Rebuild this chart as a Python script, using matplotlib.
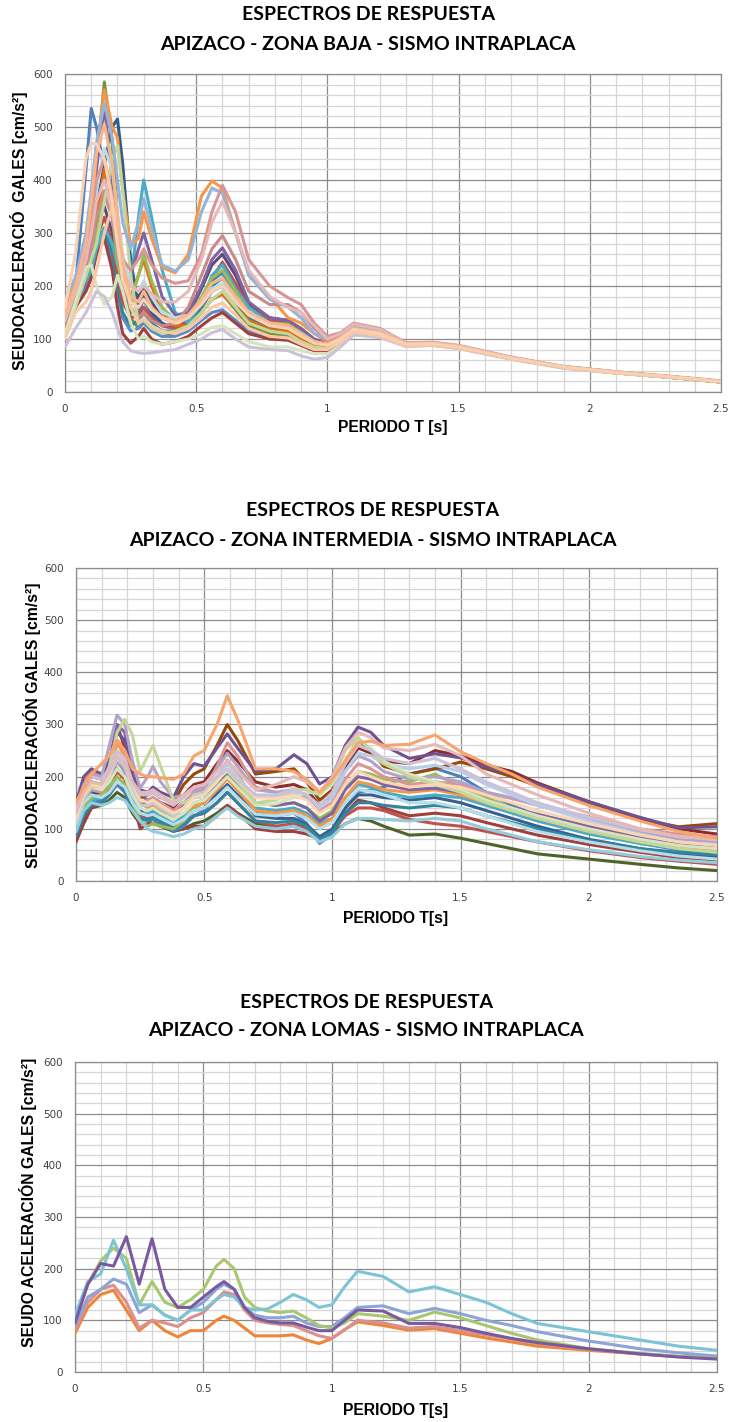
import matplotlib
matplotlib.use("Agg")
import matplotlib.pyplot as plt
from matplotlib.ticker import MultipleLocator, FuncFormatter

# ---- ZONA BAJA ----
periodo_baja = [0, 0.04, 0.08, 0.10, 0.12, 0.15, 0.18, 0.20, 0.22, 0.25, 0.28, 0.30, 0.33, 0.37,
                0.42, 0.47, 0.52, 0.56, 0.60, 0.65, 0.70, 0.78, 0.85, 0.90, 0.95, 1.00, 1.05,
                1.10, 1.20, 1.30, 1.40, 1.50, 1.70, 1.90, 2.10, 2.30, 2.50]
baja_series = [
    [130, 200, 420, 535, 500, 420, 330, 250, 190, 150, 150, 175, 145, 125, 120, 135, 170, 210, 225, 185, 150, 125, 120, 105, 90, 88, 100, 118, 110, 90, 92, 85, 64, 47, 37, 29, 20],
    [140, 190, 230, 280, 350, 430, 500, 515, 430, 250, 160, 185, 150, 130, 120, 130, 160, 190, 200, 170, 140, 120, 115, 100, 88, 85, 98, 115, 108, 88, 90, 84, 63, 46, 37, 28, 19],
    [120, 175, 230, 300, 430, 585, 470, 330, 200, 140, 120, 135, 115, 105, 110, 125, 150, 175, 185, 155, 125, 110, 105, 90, 80, 80, 95, 115, 108, 88, 90, 84, 63, 46, 37, 28, 19],
    [105, 160, 200, 230, 270, 300, 250, 190, 140, 115, 120, 130, 115, 105, 105, 115, 135, 150, 155, 135, 115, 100, 98, 88, 78, 78, 92, 112, 105, 87, 89, 83, 63, 46, 36, 28, 19],
    [115, 160, 190, 215, 260, 290, 230, 160, 110, 92, 105, 120, 100, 90, 95, 105, 125, 140, 150, 130, 110, 100, 98, 88, 78, 78, 92, 112, 105, 87, 89, 83, 63, 46, 36, 28, 19],
    [125, 180, 215, 240, 280, 310, 260, 200, 150, 125, 135, 150, 130, 115, 115, 125, 160, 200, 215, 180, 140, 120, 118, 102, 88, 84, 97, 115, 108, 88, 90, 84, 63, 46, 37, 28, 19],
    [135, 190, 220, 260, 320, 350, 300, 240, 190, 165, 180, 195, 170, 140, 130, 145, 195, 240, 260, 220, 165, 140, 135, 118, 98, 90, 102, 120, 112, 90, 92, 85, 64, 47, 37, 29, 20],
    [120, 175, 210, 240, 290, 330, 280, 220, 170, 140, 145, 160, 140, 125, 120, 135, 170, 215, 245, 205, 160, 135, 130, 115, 95, 88, 100, 118, 110, 89, 91, 85, 64, 47, 37, 29, 20],
    [150, 200, 230, 270, 330, 420, 360, 280, 210, 180, 220, 250, 200, 150, 125, 125, 150, 175, 185, 160, 135, 118, 115, 100, 88, 85, 98, 116, 109, 88, 90, 84, 63, 46, 37, 28, 19],
    [150, 190, 210, 230, 270, 310, 280, 240, 215, 205, 330, 400, 330, 230, 150, 130, 170, 220, 240, 195, 160, 130, 125, 110, 95, 90, 100, 118, 110, 90, 91, 85, 64, 47, 37, 29, 20],
    [140, 190, 240, 300, 420, 540, 400, 300, 230, 220, 270, 300, 250, 180, 145, 150, 200, 250, 272, 230, 170, 140, 135, 120, 100, 92, 105, 120, 112, 90, 92, 85, 64, 47, 37, 29, 20],
    [130, 185, 220, 250, 300, 370, 330, 250, 190, 170, 220, 260, 210, 160, 135, 140, 180, 215, 230, 190, 150, 130, 128, 112, 95, 88, 100, 118, 110, 89, 91, 85, 64, 47, 37, 29, 20],
    [165, 210, 250, 330, 450, 570, 500, 480, 380, 275, 290, 340, 290, 235, 225, 260, 370, 398, 385, 300, 225, 180, 140, 130, 110, 95, 105, 122, 114, 90, 92, 86, 64, 47, 37, 29, 20],
    [125, 180, 230, 270, 330, 380, 330, 270, 210, 160, 140, 150, 135, 125, 130, 160, 220, 270, 295, 250, 190, 165, 165, 150, 120, 98, 108, 126, 117, 92, 93, 87, 65, 48, 38, 29, 20],
    [110, 160, 220, 250, 280, 360, 440, 465, 380, 220, 130, 135, 120, 110, 115, 125, 150, 175, 190, 160, 130, 115, 110, 95, 85, 82, 95, 112, 105, 87, 89, 83, 63, 46, 36, 28, 19],
    [110, 170, 235, 240, 200, 165, 180, 220, 190, 130, 100, 105, 95, 90, 95, 100, 110, 122, 125, 110, 95, 85, 85, 78, 72, 72, 88, 108, 103, 86, 88, 82, 62, 45, 36, 28, 19],
    [85, 120, 150, 170, 190, 180, 150, 120, 95, 78, 74, 73, 74, 77, 80, 90, 100, 112, 118, 100, 85, 80, 78, 68, 62, 65, 85, 108, 103, 86, 88, 82, 62, 45, 36, 28, 19],
    [170, 220, 260, 300, 380, 460, 420, 340, 260, 200, 190, 210, 180, 150, 140, 145, 170, 195, 205, 175, 150, 130, 125, 110, 95, 90, 102, 120, 112, 90, 92, 85, 64, 47, 37, 29, 20],
    [175, 215, 300, 380, 470, 545, 480, 400, 320, 270, 320, 365, 310, 240, 228, 250, 340, 385, 375, 300, 220, 175, 160, 140, 110, 100, 110, 125, 116, 92, 93, 86, 65, 48, 38, 29, 20],
    [155, 200, 260, 330, 400, 440, 370, 300, 250, 230, 250, 270, 240, 215, 205, 210, 260, 340, 390, 340, 250, 200, 178, 165, 130, 105, 112, 130, 120, 93, 94, 88, 66, 48, 38, 30, 21],
    [135, 190, 250, 300, 360, 400, 340, 280, 230, 200, 190, 200, 185, 170, 170, 190, 250, 320, 360, 300, 230, 180, 160, 150, 125, 100, 110, 128, 118, 92, 93, 87, 65, 48, 38, 29, 20],
    [100, 150, 170, 190, 230, 300, 350, 330, 250, 160, 130, 140, 125, 115, 110, 120, 140, 160, 168, 145, 120, 105, 102, 90, 80, 80, 94, 113, 106, 87, 89, 83, 63, 46, 36, 28, 19],
    [145, 200, 280, 360, 450, 505, 430, 330, 240, 180, 170, 190, 160, 140, 135, 145, 175, 205, 215, 180, 150, 130, 125, 108, 95, 90, 102, 120, 112, 90, 92, 85, 64, 47, 37, 29, 20],
    [160, 260, 440, 470, 468, 440, 360, 280, 210, 170, 160, 175, 155, 140, 130, 140, 165, 190, 200, 170, 145, 125, 120, 105, 92, 88, 100, 118, 110, 90, 91, 85, 64, 47, 37, 29, 20],
]
baja_colores = ["#4F81BD", "#2F5D8E", "#77933C", "#5B8BC9", "#A0403C", "#31859C", "#5F497A",
                "#C0504D", "#E46C0A", "#4BACC6", "#8064A2", "#9BBB59", "#F79646", "#C98B89",
                "#C3D69B", "#D7E4BD", "#CCC1DA", "#B7DEE8", "#95B3D7", "#D99694", "#E6B9B8",
                "#F9C9A5", "#F9B58A", "#FAD0B0"]

# ---- ZONA INTERMEDIA ----
periodo_inter = [0, 0.03, 0.06, 0.10, 0.13, 0.16, 0.19, 0.22, 0.25, 0.28, 0.30, 0.33, 0.38, 0.42,
                 0.46, 0.50, 0.55, 0.59, 0.63, 0.70, 0.78, 0.85, 0.90, 0.95, 1.00, 1.05, 1.10,
                 1.15, 1.20, 1.30, 1.40, 1.50, 1.60, 1.70, 1.80, 2.00, 2.20, 2.35, 2.50]
inter_series = [
    [80, 120, 140, 145, 155, 170, 160, 130, 110, 108, 110, 105, 95, 100, 110, 115, 130, 145, 130, 110, 105, 105, 95, 80, 90, 110, 120, 115, 105, 88, 90, 82, 72, 62, 52, 42, 32, 25, 20],
    [75, 110, 140, 150, 220, 300, 255, 160, 100, 110, 120, 105, 100, 100, 105, 105, 125, 145, 130, 100, 95, 95, 90, 80, 90, 130, 155, 150, 140, 125, 130, 125, 112, 100, 88, 70, 55, 45, 40],
    [105, 150, 165, 160, 175, 210, 195, 150, 125, 120, 125, 115, 105, 110, 125, 130, 150, 170, 150, 115, 105, 110, 100, 80, 95, 125, 140, 140, 135, 118, 110, 105, 95, 85, 75, 58, 45, 38, 32],
    [90, 130, 150, 155, 165, 185, 170, 140, 120, 115, 118, 110, 95, 105, 125, 135, 170, 200, 175, 130, 125, 130, 110, 72, 90, 140, 170, 175, 180, 205, 216, 200, 170, 145, 125, 95, 72, 60, 52],
    [110, 150, 170, 165, 185, 270, 250, 180, 135, 125, 130, 120, 105, 115, 135, 140, 165, 185, 165, 125, 120, 120, 108, 85, 100, 140, 165, 165, 160, 155, 160, 150, 135, 120, 105, 80, 62, 52, 45],
    [85, 125, 145, 150, 165, 190, 175, 140, 120, 118, 122, 115, 100, 110, 125, 130, 150, 170, 150, 115, 112, 115, 105, 80, 95, 130, 150, 150, 145, 140, 145, 140, 125, 112, 100, 78, 62, 55, 50],
    [95, 140, 155, 160, 190, 230, 210, 160, 130, 130, 135, 125, 110, 125, 150, 155, 185, 210, 185, 140, 135, 140, 130, 110, 120, 160, 185, 180, 170, 160, 165, 160, 145, 130, 115, 90, 72, 62, 55],
    [100, 140, 160, 165, 180, 200, 185, 150, 115, 105, 110, 105, 100, 115, 140, 150, 190, 232, 205, 150, 145, 150, 140, 120, 135, 180, 210, 205, 195, 190, 205, 180, 160, 140, 125, 104, 82, 68, 60],
    [145, 190, 210, 200, 210, 265, 240, 180, 150, 140, 145, 135, 120, 130, 145, 150, 175, 195, 175, 135, 130, 135, 125, 105, 120, 160, 190, 185, 175, 170, 175, 165, 150, 135, 120, 95, 75, 65, 60],
    [125, 165, 185, 185, 230, 300, 285, 210, 165, 155, 160, 150, 135, 145, 160, 165, 185, 205, 185, 150, 145, 150, 140, 115, 130, 175, 200, 195, 185, 175, 178, 170, 155, 140, 128, 105, 85, 72, 65],
    [130, 170, 190, 185, 195, 215, 200, 170, 150, 150, 155, 150, 140, 165, 185, 190, 225, 250, 230, 190, 180, 185, 175, 145, 160, 215, 255, 245, 230, 225, 250, 240, 222, 210, 188, 152, 120, 100, 90],
    [140, 180, 200, 195, 200, 240, 225, 180, 160, 165, 170, 160, 150, 185, 205, 215, 260, 300, 270, 205, 210, 215, 190, 155, 175, 230, 270, 250, 220, 205, 215, 228, 215, 200, 182, 146, 118, 104, 110],
    [150, 200, 215, 205, 230, 285, 270, 200, 175, 170, 180, 170, 160, 200, 225, 220, 255, 282, 255, 210, 215, 242, 225, 186, 200, 260, 295, 285, 260, 235, 244, 236, 218, 205, 185, 152, 122, 102, 104],
    [110, 155, 175, 170, 200, 230, 215, 175, 150, 155, 160, 150, 135, 150, 170, 175, 220, 265, 240, 180, 170, 170, 160, 135, 150, 195, 225, 215, 200, 185, 190, 185, 170, 158, 145, 123, 100, 90, 85],
    [140, 185, 205, 200, 260, 318, 300, 230, 178, 200, 220, 190, 160, 165, 175, 180, 215, 245, 220, 175, 170, 175, 160, 140, 160, 210, 240, 230, 210, 195, 200, 190, 170, 160, 145, 118, 95, 80, 75],
    [95, 135, 150, 145, 150, 160, 155, 135, 115, 100, 95, 92, 85, 90, 100, 105, 125, 140, 125, 105, 100, 105, 95, 75, 85, 110, 120, 120, 118, 115, 120, 115, 100, 88, 75, 60, 47, 40, 35],
    [110, 150, 165, 160, 170, 190, 180, 150, 130, 125, 128, 120, 108, 118, 135, 140, 160, 180, 160, 128, 125, 130, 120, 100, 112, 150, 175, 172, 165, 150, 150, 140, 125, 110, 95, 75, 58, 48, 42],
    [115, 160, 180, 175, 200, 235, 220, 175, 145, 145, 150, 140, 125, 140, 165, 170, 200, 225, 200, 160, 160, 170, 165, 140, 160, 210, 245, 240, 225, 215, 222, 210, 185, 165, 145, 115, 90, 75, 70],
    [120, 165, 180, 175, 190, 215, 200, 165, 140, 135, 140, 130, 118, 130, 150, 155, 180, 200, 180, 145, 148, 160, 170, 168, 185, 230, 270, 255, 230, 205, 190, 175, 155, 140, 125, 100, 80, 68, 62],
    [125, 160, 180, 185, 220, 285, 310, 280, 210, 240, 260, 220, 155, 150, 160, 165, 195, 210, 190, 150, 155, 175, 175, 165, 190, 250, 275, 250, 225, 200, 185, 170, 150, 135, 120, 95, 75, 62, 55],
    [120, 165, 185, 180, 205, 245, 230, 185, 155, 150, 155, 145, 130, 140, 160, 165, 190, 215, 195, 160, 158, 165, 155, 130, 145, 185, 210, 200, 190, 180, 185, 180, 165, 150, 135, 110, 88, 75, 68],
    [135, 180, 200, 195, 215, 250, 235, 190, 165, 165, 170, 160, 145, 160, 180, 185, 200, 215, 195, 165, 165, 175, 165, 145, 170, 225, 260, 250, 235, 225, 235, 215, 190, 170, 150, 122, 98, 85, 82],
    [130, 170, 190, 185, 210, 240, 225, 190, 170, 170, 175, 165, 150, 165, 180, 185, 210, 230, 210, 175, 185, 200, 190, 170, 200, 255, 285, 275, 255, 250, 262, 240, 205, 185, 165, 130, 100, 85, 79],
    [150, 180, 205, 225, 240, 270, 250, 215, 205, 200, 200, 198, 195, 205, 240, 250, 300, 355, 310, 215, 215, 210, 195, 170, 195, 230, 265, 268, 260, 262, 280, 248, 225, 205, 180, 145, 115, 95, 82],
]
inter_colores = ["#4F6228", "#A0403C", "#C0504D", "#4F81BD", "#376092", "#31859C", "#4BACC6",
                 "#9BBB59", "#F79646", "#8064A2", "#8B2E2C", "#984807", "#6E5294", "#D99694",
                 "#B3A2C7", "#93CDDD", "#B7DEE8", "#B9CDE5", "#D7E4BD", "#C3D69B", "#FCD5B5",
                 "#CCC1DA", "#E6B9B8", "#F8A46C"]

# ---- ZONA LOMAS ----
periodo_lomas = [0, 0.05, 0.10, 0.15, 0.20, 0.25, 0.30, 0.35, 0.40, 0.45, 0.50, 0.55, 0.58, 0.62,
                 0.66, 0.70, 0.75, 0.80, 0.85, 0.90, 0.95, 1.00, 1.05, 1.10, 1.20, 1.30, 1.40,
                 1.50, 1.60, 1.70, 1.80, 2.00, 2.20, 2.35, 2.50]
lomas_series = [
    [75, 125, 150, 158, 120, 80, 100, 80, 68, 80, 80, 100, 108, 100, 85, 70, 70, 70, 72, 62, 55, 65, 82, 97, 90, 81, 84, 75, 66, 58, 50, 42, 35, 30, 28],
    [80, 135, 160, 168, 135, 85, 100, 95, 88, 105, 115, 140, 155, 150, 120, 100, 95, 92, 90, 80, 70, 65, 82, 100, 95, 85, 88, 80, 72, 64, 55, 44, 35, 30, 27],
    [90, 145, 160, 180, 170, 115, 130, 110, 100, 120, 135, 160, 170, 160, 125, 110, 105, 105, 108, 95, 88, 88, 105, 125, 128, 113, 123, 113, 100, 90, 78, 60, 45, 37, 31],
    [105, 170, 215, 240, 220, 130, 175, 135, 125, 140, 160, 205, 218, 200, 145, 125, 118, 115, 118, 105, 90, 85, 95, 113, 108, 100, 116, 105, 90, 75, 62, 45, 36, 30, 26],
    [110, 175, 190, 255, 200, 130, 130, 110, 100, 120, 120, 140, 150, 145, 125, 120, 122, 135, 150, 140, 125, 130, 165, 195, 185, 155, 165, 150, 135, 113, 94, 78, 62, 50, 42],
    [95, 170, 210, 205, 262, 170, 258, 160, 125, 125, 145, 165, 175, 160, 125, 105, 98, 95, 95, 87, 80, 80, 100, 120, 118, 94, 94, 86, 75, 65, 57, 45, 35, 29, 25],
]
lomas_colores = ["#EE8539", "#D9908E", "#8DA4D6", "#A8C76F", "#7DC3D6", "#7A5A9E"]

titulos = [
    "ESPECTROS DE RESPUESTA\nAPIZACO - ZONA BAJA - SISMO INTRAPLACA",
    "ESPECTROS DE RESPUESTA\nAPIZACO - ZONA INTERMEDIA - SISMO INTRAPLACA",
    "ESPECTROS DE RESPUESTA\nAPIZACO - ZONA LOMAS - SISMO INTRAPLACA",
]
etiquetas_y = [
    "SEUDOACELERACIÓ  GALES [cm/s²]",
    "SEUDOACELERACIÓN GALES [cm/s²]",
    "SEUDO ACELERACIÓN GALES [cm/s²]",
]
etiquetas_x = ["PERIODO T [s]", "PERIODO T[s]", "PERIODO T[s]"]

W, H = 730, 1422
fig = plt.figure(figsize=(W / 100, H / 100), dpi=100)
fig.patch.set_facecolor("white")


def px_axes(left, top, right, bottom):
    return fig.add_axes([left / W, 1 - bottom / H, (right - left) / W, (bottom - top) / H])


def draw_panel(ax, periodos, series, colores):
    for vals, c in zip(series, colores):
        ax.plot(periodos, vals, color=c, lw=2.2, solid_joinstyle="round",
                solid_capstyle="round", zorder=3)
    ax.set_xlim(0, 2.5)
    ax.set_ylim(0, 600)
    ax.xaxis.set_major_locator(MultipleLocator(0.5))
    ax.xaxis.set_minor_locator(MultipleLocator(0.1))
    ax.yaxis.set_major_locator(MultipleLocator(100))
    ax.yaxis.set_minor_locator(MultipleLocator(20))
    ax.xaxis.set_major_formatter(FuncFormatter(lambda v, _: f"{v:g}"))
    ax.yaxis.set_major_formatter(FuncFormatter(lambda v, _: f"{v:g}"))
    ax.grid(which="minor", color="#d6d6d6", lw=0.9, zorder=0)
    ax.grid(which="major", color="#8c8c8c", lw=0.9, zorder=1)
    ax.set_axisbelow(True)
    ax.tick_params(which="both", length=0, labelsize=7.5, labelcolor="#404040")
    ax.tick_params(axis="x", pad=9)
    ax.tick_params(axis="y", pad=9)
    for s in ax.spines.values():
        s.set_color("#8c8c8c")
        s.set_linewidth(0.9)


paneles = [
    dict(box=(65, 74, 721, 392), t=(368, 15, 44), yl=(19, 231), xl=(393, 428)),
    dict(box=(76, 568, 717, 881), t=(373, 511, 540), yl=(32, 725), xl=(396, 918)),
    dict(box=(75, 1062, 717, 1372), t=(366, 1002, 1031), yl=(28, 1202), xl=(396, 1410)),
]
datos = [(periodo_baja, baja_series, baja_colores),
         (periodo_inter, inter_series, inter_colores),
         (periodo_lomas, lomas_series, lomas_colores)]

for i, (p, (per, ser, col)) in enumerate(zip(paneles, datos)):
    ax = px_axes(*p["box"])
    draw_panel(ax, per, ser, col)
    l1, l2 = titulos[i].split("\n")
    tx, ty1, ty2 = p["t"]
    fig.text(tx / W, 1 - ty1 / H, l1, ha="center", va="center", fontsize=14,
             fontweight="bold", family="Lato")
    fig.text(tx / W, 1 - ty2 / H, l2, ha="center", va="center", fontsize=14,
             fontweight="bold", family="Lato")
    fig.text(p["yl"][0] / W, 1 - p["yl"][1] / H, etiquetas_y[i], rotation=90,
             ha="center", va="center", fontsize=11.3, fontweight="bold",
             family="Liberation Sans")
    fig.text(p["xl"][0] / W, 1 - p["xl"][1] / H, etiquetas_x[i], ha="center",
             va="center", fontsize=11.3, fontweight="bold", family="Liberation Sans")

fig.savefig("out.png", dpi=100, facecolor="white")
